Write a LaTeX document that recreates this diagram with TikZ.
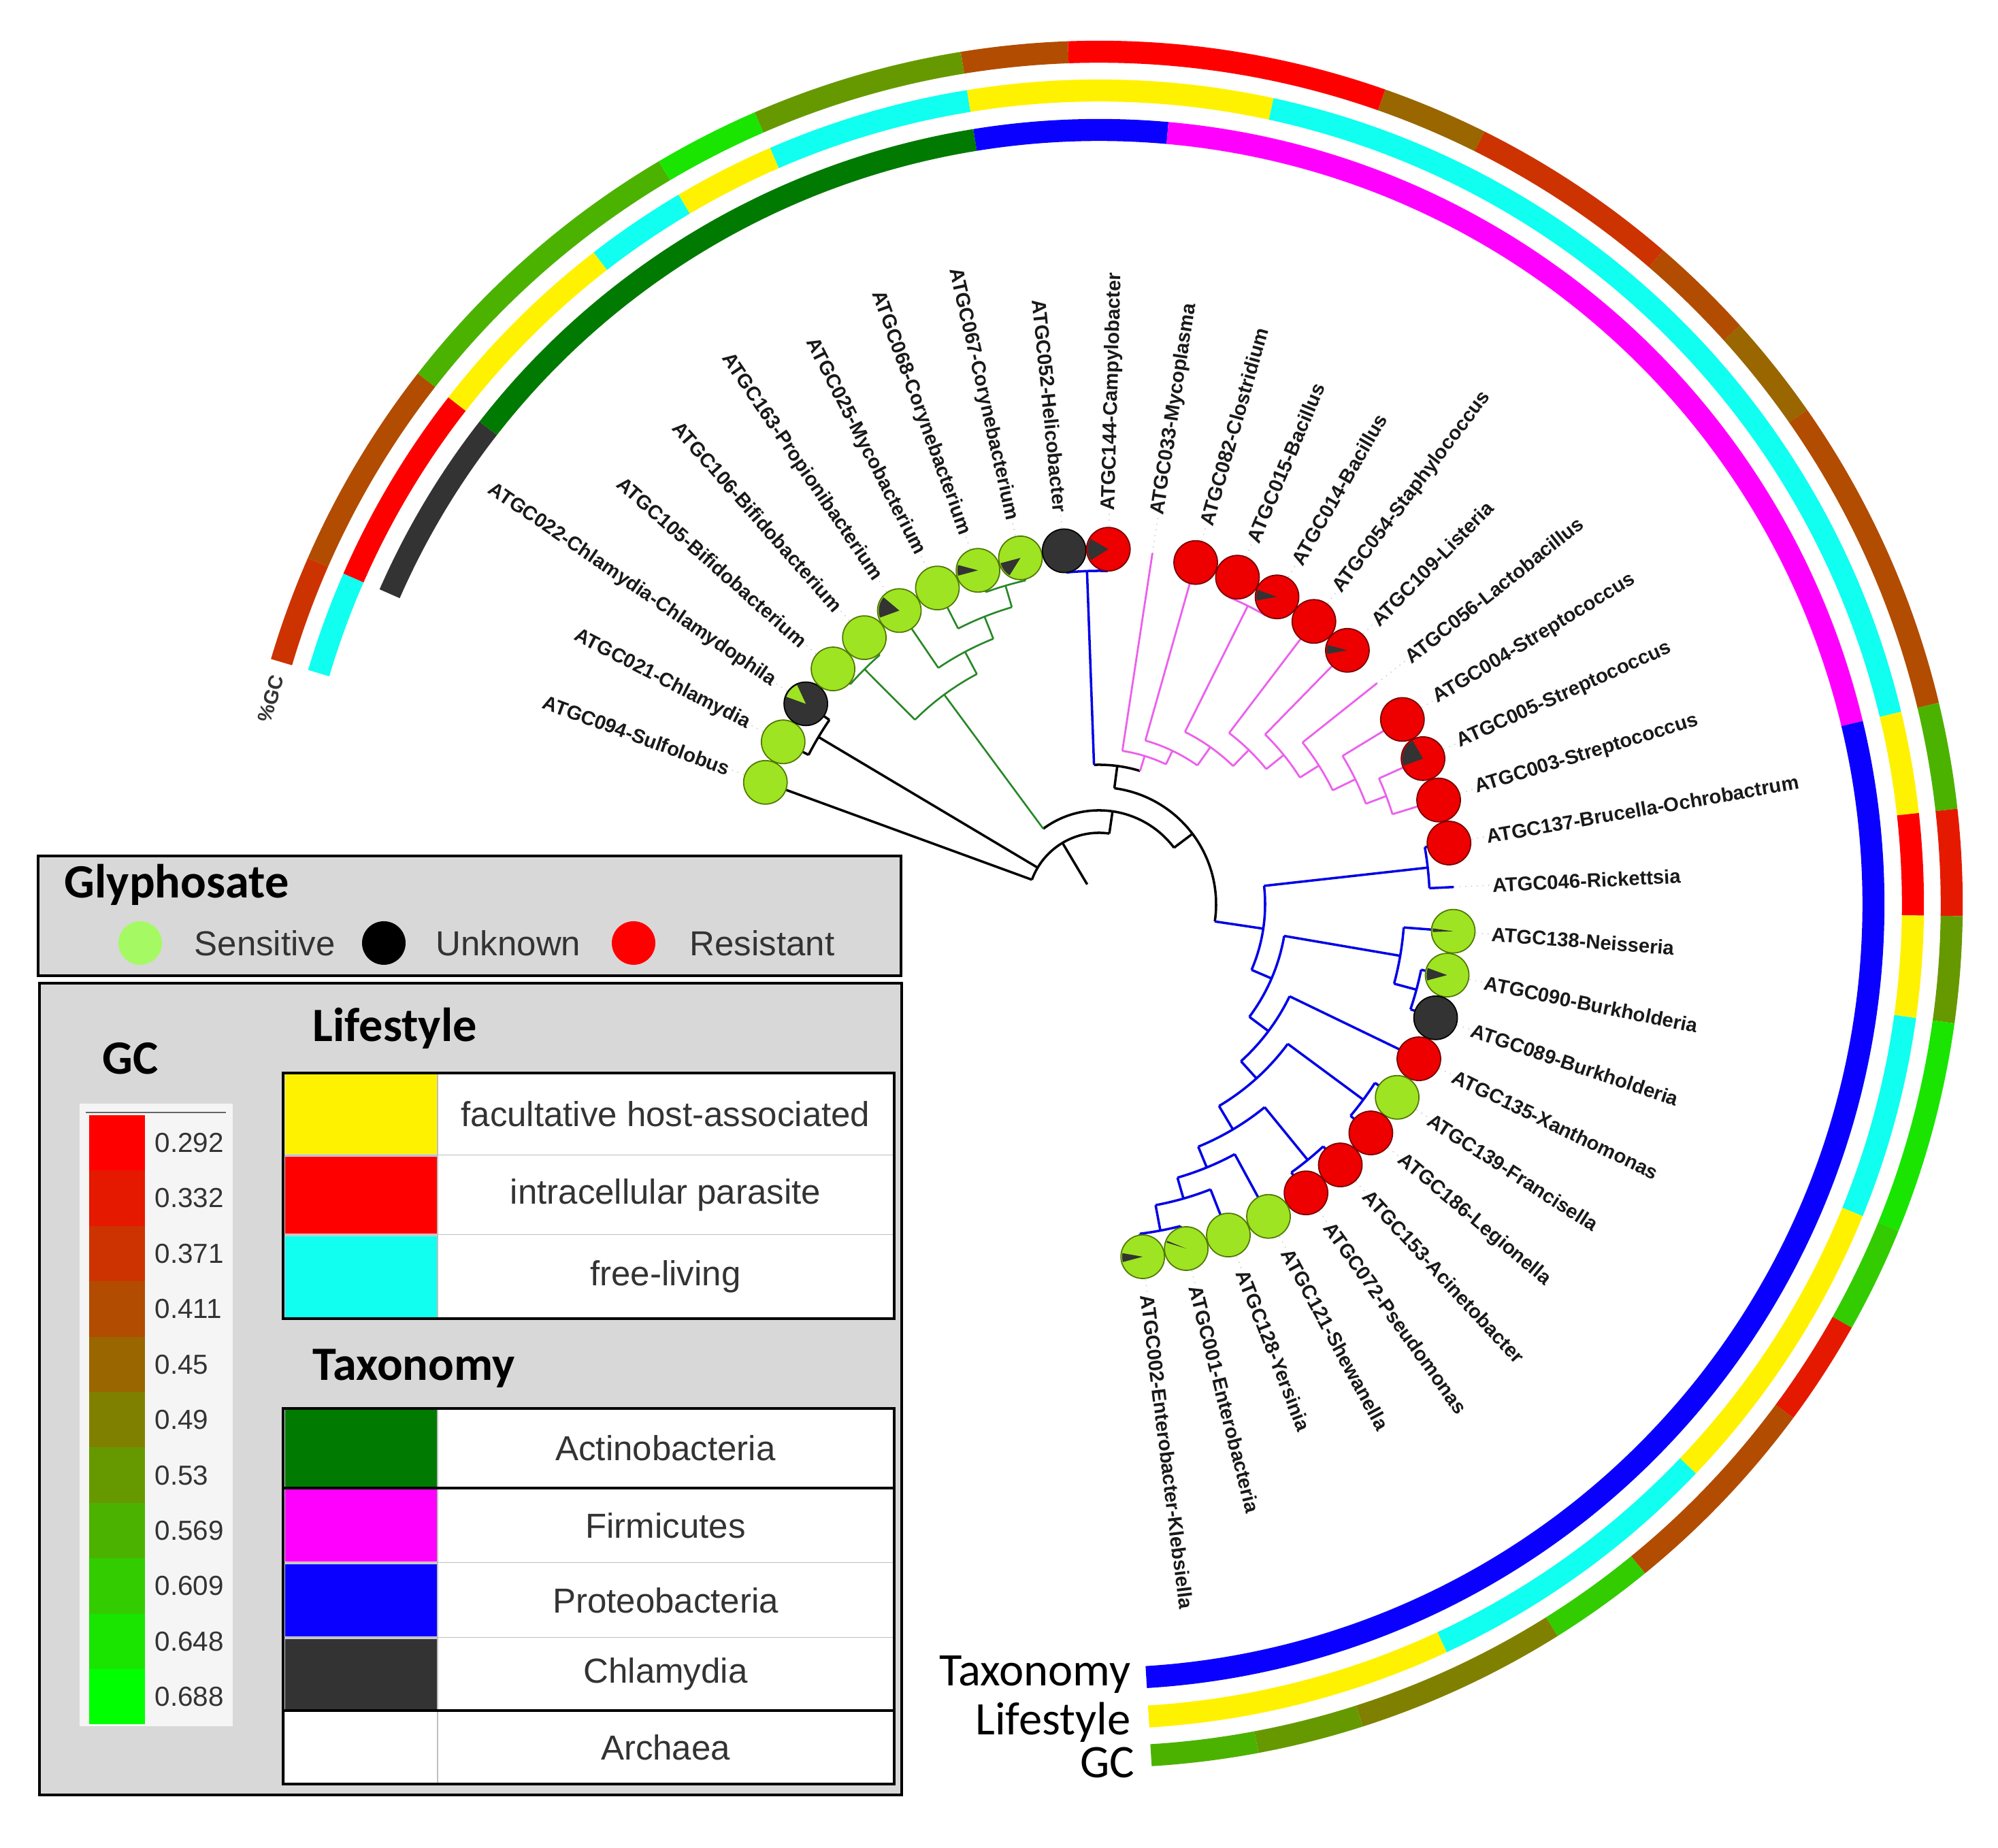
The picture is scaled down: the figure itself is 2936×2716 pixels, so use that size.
\documentclass[tikz,border=0pt]{standalone}
\usepackage{fontspec}
\setmainfont{Liberation Sans}
\newfontfamily\calfont{Carlito}

\definecolor{sensfill}{RGB}{158,228,34}
\definecolor{sensline}{RGB}{80,120,0}
\definecolor{unkfill}{RGB}{51,51,51}
\definecolor{resfill}{RGB}{238,0,0}
\definecolor{resline}{RGB}{120,0,0}
\definecolor{lcyan}{RGB}{16,255,240}
\definecolor{actino}{RGB}{0,122,0}
\definecolor{firmi}{RGB}{255,0,255}
\definecolor{proteo}{RGB}{10,0,255}
\definecolor{chlgray}{RGB}{51,51,51}
\definecolor{treegreen}{RGB}{40,135,40}
\definecolor{treeblue}{RGB}{0,0,230}
\definecolor{treemag}{RGB}{236,96,236}
\definecolor{boxgray}{RGB}{216,216,216}
\definecolor{legsens}{RGB}{165,250,100}
\definecolor{txtgray}{RGB}{51,51,51}

% stem from parent radius, then the arc of the clade
\newcommand{\clade}[7]{\draw[#1] (#2:#3) -- (#2:#4) coordinate (#7) (#5:#4) arc[start angle=#5, end angle=#6, radius=#4];}
% leaf branches
\newcommand{\twigs}[3]{\foreach \j in {#3}{\draw[#1] ({167.07-7.143*\j}:#2) -- (tip\j);}}
% one coloured run of a ring
\newcommand{\ringrun}[4]{\pgfmathsetmacro\angA{163.5-(#2-1)*7.143}\pgfmathsetmacro\angB{163.5-#3*7.143}%
  \draw[ring, draw=#4] (\angA:#1) arc[start angle=\angA, end angle=\angB, radius=#1];}

\begin{document}
\begin{tikzpicture}[x=0.01cm, y=0.01cm,
  blk/.style={line width=1pt, black},
  grn/.style={line width=0.75pt, treegreen},
  blu/.style={line width=1pt, treeblue},
  mag/.style={line width=0.8pt, treemag},
  ring/.style={line width=9.2pt},
  glyph/.style={circle, minimum size=18.2pt, inner sep=0pt, line width=0.5pt},
  sens/.style={glyph, fill=sensfill, draw=sensline},
  unk/.style={glyph, fill=unkfill, draw=black},
  res/.style={glyph, fill=resfill, draw=resline},
  leaflbl/.style={font=\bfseries\fontsize{8.3}{10}\selectfont, inner sep=0pt, text=black!90},
  title/.style={font=\calfont\bfseries\fontsize{20}{24}\selectfont, inner sep=0pt},
  legtxt/.style={font=\fontsize{14.5}{17}\selectfont, text=txtgray, inner sep=0pt},
  gclbl/.style={font=\fontsize{11.5}{13}\selectfont, text=txtgray, inner sep=0pt, anchor=west},
  ringlbl/.style={font=\calfont\fontsize{19.5}{23}\selectfont, inner sep=0pt, anchor=base east}]

\fill[white] (0,0) rectangle (2936,2716);

\begin{scope}[shift={(1615,1387)}]
  % leaf tips
  \foreach \i in {1,...,35}{\coordinate (tip\i) at ({167.07-7.143*\i}:522);}

  % rings: taxonomy, lifestyle, GC
  \foreach \s/\e/\col in {2/3/chlgray, 4/9/actino, 10/11/proteo, 12/21/firmi, 22/35/proteo}{\ringrun{1138}{\s}{\e}{\col}}
  \foreach \s/\e/\col in {1/1/lcyan, 2/3/red, 4/5/yellow, 6/6/lcyan, 7/7/yellow, 8/9/lcyan, 10/12/yellow,
    13/21/lcyan, 22/22/yellow, 23/23/red, 24/24/yellow, 25/26/lcyan, 27/29/yellow, 30/32/lcyan, 33/35/yellow}{\ringrun{1196}{\s}{\e}{\col}}
  \foreach \s/\e/\p in {1/1/20, 2/3/30, 4/6/70, 7/7/90, 8/9/60, 10/10/30, 11/13/0, 14/14/40, 15/16/20, 17/17/30,
    18/18/40, 19/21/30, 22/22/70, 23/23/10, 24/24/60, 25/26/90, 27/27/80, 28/28/10, 29/30/30, 31/31/80,
    32/33/50, 34/34/60, 35/35/70}{\ringrun{1253}{\s}{\e}{green!\p!red}}
  \node[font=\bfseries\fontsize{8.4}{10}\selectfont, text=txtgray, inner sep=0pt, anchor=east, rotate=73.5] (pgc) at (164.4:1253) {\%GC};

  % backbone
  \draw[blk] (120.8:34) -- (120.8:105) coordinate (root);
  \draw[blk] (159.93:105) arc[start angle=159.93, end angle=81.74, radius=105];
  \twigs{blk}{105}{1}
  \clade{blk}{149.2}{105}{480}{152.79}{145.64}{nChl}
  \twigs{blk}{480}{2,3}
  \clade{blk}{81.74}{105}{138}{126.45}{37.02}{nM}
  \clade{blk}{37.02}{138}{172}{82.49}{-8.46}{nX}
  \clade{blk}{82.49}{172}{205}{92.07}{72.9}{nHF}

  % actinobacteria
  \clade{grn}{126.45}{138}{383}{134.93}{117.96}{nA}
  \clade{grn}{134.93}{383}{488}{138.5}{131.36}{nB}
  \twigs{grn}{488}{4,5}
  \clade{grn}{117.96}{383}{420}{124.21}{111.71}{nC}
  \twigs{grn}{420}{6}
  \clade{grn}{111.71}{420}{455}{117.07}{106.36}{nD}
  \twigs{grn}{455}{7}
  \clade{grn}{106.36}{455}{488}{109.93}{102.79}{nE}
  \twigs{grn}{488}{8,9}

  % helicobacter / campylobacter
  \clade{blu}{92.07}{205}{490}{95.64}{88.5}{nEps}
  \twigs{blu}{490}{10,11}

  % firmicutes
  \clade{mag}{72.9}{205}{228}{81.36}{64.45}{nF1}
  \twigs{mag}{228}{12}
  \clade{mag}{64.45}{228}{250}{74.21}{54.69}{nF2}
  \twigs{mag}{250}{13}
  \clade{mag}{54.69}{250}{283}{63.5}{45.87}{nF3}
  \clade{mag}{63.5}{283}{490}{67.07}{59.93}{nBac}
  \twigs{mag}{490}{14,15}
  \clade{mag}{45.87}{283}{316}{52.79}{38.95}{nF4}
  \twigs{mag}{316}{16}
  \clade{mag}{38.95}{316}{349}{45.64}{32.25}{nF5}
  \twigs{mag}{349}{17}
  \clade{mag}{32.25}{349}{382}{38.5}{26}{nF6}
  \twigs{mag}{382}{18}
  \clade{mag}{26}{382}{419}{31.36}{20.64}{nF7}
  \twigs{mag}{419}{19}
  \clade{mag}{20.64}{419}{451}{24.21}{17.07}{nStr}
  \twigs{mag}{451}{20,21}

  % proteobacteria
  \clade{blu}{-8.46}{172}{244}{6.36}{-23.28}{nP1}
  \clade{blu}{6.36}{244}{486}{9.93}{2.79}{nBR}
  \twigs{blu}{486}{22,23}
  \clade{blu}{-23.28}{244}{276}{-9.72}{-36.84}{nP2}
  \clade{blu}{-9.72}{276}{449}{-4.36}{-15.07}{nNB}
  \twigs{blu}{449}{24}
  \clade{blu}{-15.07}{449}{483}{-11.5}{-18.64}{nBur}
  \twigs{blu}{483}{25,26}
  \clade{blu}{-36.84}{276}{311}{-25.79}{-47.89}{nP3}
  \twigs{blu}{311}{27}
  \clade{blu}{-47.89}{311}{345}{-36.5}{-59.27}{nP4}
  \clade{blu}{-36.5}{345}{483}{-32.93}{-40.07}{nFL}
  \twigs{blu}{483}{28,29}
  \clade{blu}{-59.27}{345}{385}{-50.79}{-67.75}{nP5}
  \clade{blu}{-50.79}{385}{485}{-47.21}{-54.36}{nAP}
  \twigs{blu}{485}{30,31}
  \clade{blu}{-67.75}{385}{418}{-61.5}{-74}{nP6}
  \twigs{blu}{418}{32}
  \clade{blu}{-74}{418}{450}{-68.64}{-79.36}{nP7}
  \twigs{blu}{450}{33}
  \clade{blu}{-79.36}{450}{488}{-75.79}{-82.93}{nEnt}
  \twigs{blu}{488}{34,35}

  % dotted leaders
  \foreach \i in {1,...,35}{\pgfmathsetmacro\ang{167.07-7.143*\i}
    \draw[dotted, gray!45, line width=0.4pt] (tip\i) -- (\ang:575);}

  % glyphosate glyphs
  \foreach \i/\g in {1/sens, 2/sens, 3/unk, 4/sens, 5/sens, 6/sens, 7/sens, 8/sens, 9/sens, 10/unk, 11/res,
    13/res, 14/res, 15/res, 16/res, 17/res, 19/res, 20/res, 21/res, 22/res, 24/sens, 25/sens, 26/unk,
    27/res, 28/sens, 29/res, 30/res, 31/res, 32/sens, 33/sens, 34/sens, 35/sens}{\node[\g] (leaf\i) at (tip\i) {};}
  \foreach \i/\s/\e/\col in {3/115/160/sensfill, 6/140/200/unkfill, 8/165/195/unkfill, 9/195/238/unkfill,
    11/150/212/unkfill, 15/160/190/unkfill, 17/165/190/unkfill, 20/120/200/unkfill, 24/172/182/unkfill,
    25/160/195/unkfill, 34/158/163/unkfill, 35/170/195/unkfill}
    {\fill[\col] (leaf\i.center) -- ++(\s:8.6pt) arc[start angle=\s, end angle=\e, radius=8.6pt] -- cycle;}

  % leaf labels
  \foreach \i/\txt in {1/ATGC094-Sulfolobus, 2/ATGC021-Chlamydia, 3/ATGC022-Chlamydia-Chlamydophila,
    4/ATGC105-Bifidobacterium, 5/ATGC106-Bifidobacterium, 6/ATGC163-Propionibacterium,
    7/ATGC025-Mycobacterium, 8/ATGC068-Corynebacterium, 9/ATGC067-Corynebacterium, 10/ATGC052-Helicobacter}
    {\pgfmathsetmacro\ang{167.07-7.143*\i}\pgfmathsetmacro\rot{\ang-180}
     \node[leaflbl, anchor=east, rotate=\rot] (lab\i) at (\ang:578) {\txt};}
  \foreach \i/\txt in {11/ATGC144-Campylobacter, 12/ATGC033-Mycoplasma, 13/ATGC082-Clostridium,
    14/ATGC015-Bacillus, 15/ATGC014-Bacillus, 16/ATGC054-Staphylococcus, 17/ATGC109-Listeria,
    18/ATGC056-Lactobacillus, 19/ATGC004-Streptococcus, 20/ATGC005-Streptococcus, 21/ATGC003-Streptococcus,
    22/ATGC137-Brucella-Ochrobactrum, 23/ATGC046-Rickettsia, 24/ATGC138-Neisseria, 25/ATGC090-Burkholderia,
    26/ATGC089-Burkholderia, 27/ATGC135-Xanthomonas, 28/ATGC139-Francisella, 29/ATGC186-Legionella,
    30/ATGC153-Acinetobacter, 31/ATGC072-Pseudomonas, 32/ATGC121-Shewanella, 33/ATGC128-Yersinia,
    34/ATGC001-Enterobacteria, 35/ATGC002-Enterobacter-Klebsiella}
    {\pgfmathsetmacro\ang{167.07-7.143*\i}
     \node[leaflbl, anchor=west, rotate=\ang] (lab\i) at (\ang:578) {\txt};}
\end{scope}

% ring names
\node[ringlbl] (rTax) at (1662,238) {Taxonomy};
\node[ringlbl] (rLife) at (1662,166) {Lifestyle};
\node[ringlbl] (rGC) at (1668,103) {GC};

% glyphosate key
\draw[line width=1pt, fill=boxgray] (56,1282) rectangle (1324,1458);
\node[title, anchor=base west] (tGly) at (94,1396) {Glyphosate};
\node[circle, fill=legsens, minimum size=18.2pt, inner sep=0pt] (kSens) at (206,1330) {};
\node[legtxt, anchor=west] (tSens) at (285,1330) {Sensitive};
\node[circle, fill=black, minimum size=18.2pt, inner sep=0pt] (kUnk) at (564,1330) {};
\node[legtxt, anchor=west] (tUnk) at (640,1330) {Unknown};
\node[circle, fill=red, minimum size=18.2pt, inner sep=0pt] (kRes) at (931,1330) {};
\node[legtxt, anchor=west] (tRes) at (1013,1330) {Resistant};

% second key
\draw[line width=1pt, fill=boxgray] (58,78) rectangle (1325,1271);
\node[title, anchor=base west] (tGC) at (150,1137) {GC};
\fill[black!4] (117,179) rectangle (342,1094);
\draw[black!60, line width=0.4pt] (126,1081) -- (332,1081);
\foreach \k/\v in {0/0.292, 1/0.332, 2/0.371, 3/0.411, 4/0.45, 5/0.49, 6/0.53, 7/0.569, 8/0.609, 9/0.648, 10/0.688}{
  \pgfmathsetmacro\yt{1077-81.4*\k}\pgfmathtruncatemacro\p{10*\k}
  \fill[green!\p!red] (131,\yt) rectangle (213,\yt-81.4);
  \node[gclbl] (gc\k) at (227,\yt-40.7) {\v};}

\node[title, anchor=base west] (tLife) at (459,1185) {Lifestyle};
\foreach \yt/\yb/\col/\txt in {1139/1018/yellow/facultative host-associated, 1018/901/red/intracellular parasite,
  901/778/lcyan/free-living}{
  \fill[white] (643,\yb) rectangle (1314,\yt);
  \fill[\col] (419,\yb+2) rectangle (643,\yt-2);
  \draw[black!25, line width=0.5pt] (416,\yb) -- (1314,\yb) (643,\yb) -- (643,\yt);
  \node[legtxt] at (978,{(\yt+\yb)/2}) {\txt};}
\draw[line width=0.9pt] (416,778) rectangle (1314,1139);

\node[title, anchor=base west] (tTaxo) at (459,687) {Taxonomy};
\foreach \yt/\yb/\col/\txt in {646/529/actino/Actinobacteria, 529/419/firmi/Firmicutes, 419/309/proteo/Proteobacteria,
  309/202/chlgray/Chlamydia, 202/94/white/Archaea}{
  \fill[white] (643,\yb) rectangle (1314,\yt);
  \fill[\col] (419,\yb+2) rectangle (643,\yt-2);
  \draw[black!25, line width=0.5pt] (416,\yb) -- (1314,\yb) (643,\yb) -- (643,\yt);
  \node[legtxt] at (978,{(\yt+\yb)/2}) {\txt};}
\draw[line width=0.9pt] (416,529) -- (1314,529) (416,202) -- (1314,202);
\draw[line width=0.9pt] (416,94) rectangle (1314,646);
\end{tikzpicture}
\end{document}
